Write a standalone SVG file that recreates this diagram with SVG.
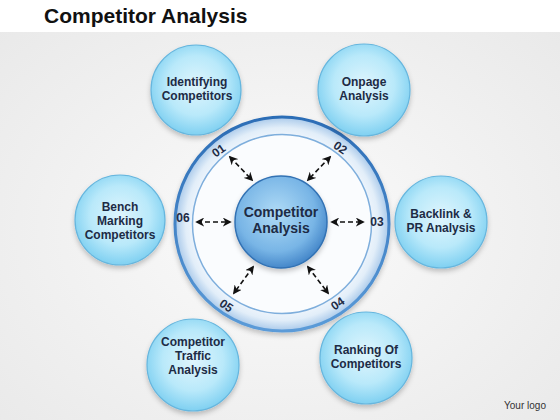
<svg xmlns="http://www.w3.org/2000/svg" width="560" height="420" viewBox="0 0 560 420">
<defs>
<radialGradient id="bg" cx="50%" cy="55%" r="70%">
<stop offset="0" stop-color="#fbfbfb"/>
<stop offset="1" stop-color="#e9e9e9"/>
</radialGradient>
<radialGradient id="node" cx="50%" cy="45%" r="55%">
<stop offset="0" stop-color="#dff5fd"/>
<stop offset="0.6" stop-color="#b9e9fa"/>
<stop offset="1" stop-color="#7fd0f1"/>
</radialGradient>
<radialGradient id="hub" cx="45%" cy="40%" r="60%">
<stop offset="0" stop-color="#b0dbf6"/>
<stop offset="0.7" stop-color="#78b5e6"/>
<stop offset="1" stop-color="#4688ca"/>
</radialGradient>
<linearGradient id="ringEdge" x1="0" y1="0" x2="0" y2="1">
<stop offset="0" stop-color="#2c6db6"/>
<stop offset="1" stop-color="#5b9bd8"/>
</linearGradient>
<radialGradient id="ringFill" cx="50%" cy="50%" r="50%">
<stop offset="0.8" stop-color="#f2f7fd"/>
<stop offset="0.9" stop-color="#e2eef9"/>
<stop offset="1" stop-color="#a9c9ea"/>
</radialGradient>
<filter id="sh" x="-20%" y="-20%" width="140%" height="150%">
<feDropShadow dx="0" dy="3" stdDeviation="2.5" flood-color="#000" flood-opacity="0.22"/>
</filter>
<marker id="ah" viewBox="0 0 10 10" refX="8" refY="5" markerWidth="9" markerHeight="9" orient="auto-start-reverse" markerUnits="userSpaceOnUse">
<path d="M0,0 L10,5 L0,10 L3,5 Z" fill="#111"/>
</marker>
<style>
.node circle{fill:url(#node);stroke:#66b6de;stroke-width:1.2;filter:url(#sh)}
.lbl{font-family:"Liberation Sans",Arial,sans-serif;font-weight:bold;font-size:12px;fill:#1d2b45;text-anchor:middle}
.big{font-size:14px}
.num{font-family:"Liberation Sans",Arial,sans-serif;font-weight:bold;font-size:12px;fill:#1d2b45;text-anchor:middle}
.con line{stroke:#111;stroke-width:1.6;stroke-dasharray:5 3;marker-start:url(#ah);marker-end:url(#ah)}
</style>
</defs>
<rect width="560" height="420" fill="url(#bg)"/>
<rect width="560" height="32" fill="#ffffff"/>
<text x="44" y="23" font-family="'Liberation Sans',Arial,sans-serif" font-weight="bold" font-size="21" fill="#111">Competitor Analysis</text>

<g id="ring">
<circle cx="282" cy="224" r="107" fill="url(#ringFill)" stroke="url(#ringEdge)" stroke-width="3" filter="url(#sh)"/>
<circle cx="282" cy="224" r="89.5" fill="#fafcfe" stroke="#7eaedc" stroke-width="1.5"/>
<text class="num" transform="translate(221,154) rotate(-35)">01</text>
<text class="num" transform="translate(338,151) rotate(35)">02</text>
<text class="num" x="377" y="226">03</text>
<text class="num" transform="translate(340,307) rotate(-35)">04</text>
<text class="num" transform="translate(224,309) rotate(35)">05</text>
<text class="num" x="183" y="222">06</text>
</g>

<g id="connectors" class="con">
<line x1="230" y1="157" x2="252" y2="180"/>
<line x1="330" y1="157" x2="308" y2="180"/>
<line x1="332" y1="222" x2="363" y2="222"/>
<line x1="308" y1="267" x2="328" y2="293"/>
<line x1="253" y1="267" x2="234" y2="293"/>
<line x1="197" y1="222" x2="230" y2="222"/>
</g>

<g id="hub">
<circle cx="281" cy="222" r="46" fill="url(#hub)" stroke="#3272b4" stroke-width="1.5" filter="url(#sh)"/>
<text class="lbl big" x="281" y="217">Competitor</text>
<text class="lbl big" x="281" y="233">Analysis</text>
</g>

<g id="n1" class="node">
<circle cx="196" cy="90" r="45"/>
<text class="lbl" x="197" y="86">Identifying</text>
<text class="lbl" x="197" y="100">Competitors</text>
</g>
<g id="n2" class="node">
<circle cx="364" cy="90" r="46"/>
<text class="lbl" x="364" y="86">Onpage</text>
<text class="lbl" x="364" y="100">Analysis</text>
</g>
<g id="n3" class="node">
<circle cx="441" cy="222" r="46"/>
<text class="lbl" x="441" y="218">Backlink &amp;</text>
<text class="lbl" x="441" y="232">PR Analysis</text>
</g>
<g id="n4" class="node">
<circle cx="366" cy="358" r="46"/>
<text class="lbl" x="366" y="354">Ranking Of</text>
<text class="lbl" x="366" y="368">Competitors</text>
</g>
<g id="n5" class="node">
<circle cx="193" cy="365" r="46"/>
<text class="lbl" x="193" y="346">Competitor</text>
<text class="lbl" x="193" y="360">Traffic</text>
<text class="lbl" x="193" y="374">Analysis</text>
</g>
<g id="n6" class="node">
<circle cx="120" cy="220" r="45"/>
<text class="lbl" x="120" y="211">Bench</text>
<text class="lbl" x="120" y="225">Marking</text>
<text class="lbl" x="120" y="239">Competitors</text>
</g>

<text x="525" y="409" font-family="'Liberation Sans',Arial,sans-serif" font-size="10" fill="#333" text-anchor="middle">Your logo</text>
</svg>
